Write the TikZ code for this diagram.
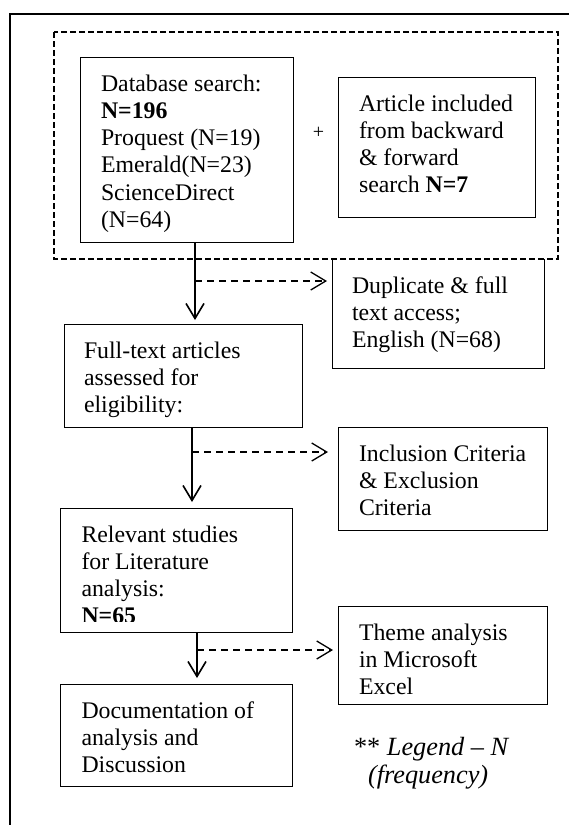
\documentclass[tikz,border=0pt]{standalone}
\usepackage{fontspec}
\setmainfont{Liberation Serif}
\usetikzlibrary{arrows.meta,calc}
\tikzset{
  boxst/.style={draw, line width=1pt, inner sep=0pt, outer sep=0pt},
  openbox/.style={draw=none, inner sep=0pt, outer sep=0pt},
  txtst/.style={anchor=base west, inner sep=0pt, outer sep=0pt},
  flowarrow/.style={line width=1.6pt, -{Straight Barb[length=15pt,width=18pt]}},
  sidearrow/.style={line width=1.3pt, dash pattern=on 7pt off 5pt, -{Straight Barb[length=15pt,width=18pt]}},
  groupframe/.style={line width=1.8pt, dash pattern=on 6pt off 3pt},
  outerframe/.style={line width=2.3pt},
}
\newcommand\boxtext[1]{\parbox[t]{240pt}{\fontsize{23.8}{27.3}\selectfont\raggedright #1}}
\begin{document}
\begin{tikzpicture}[x=1pt,y=-1pt]
\clip (0,0) rectangle (569,825);
% outer frame (only top and left edges visible)
\draw[outerframe] (10,14) rectangle (700,900);
% group frame
\draw[groupframe] (54,32) rectangle (558,259);
% boxes
\node[boxst, minimum width=213pt, minimum height=185pt] (db) at (186.5,149.5) {};
\node[boxst, minimum width=197pt, minimum height=140pt] (art) at (436.5,147) {};
\node[openbox, minimum width=212pt, minimum height=109pt] (dup) at (438,313.5) {};
\draw[line width=1pt] (dup.north west) -- (dup.south west) -- (dup.south east) -- (dup.north east);
\node[boxst, minimum width=238pt, minimum height=103pt] (ft) at (183,375.5) {};
\node[boxst, minimum width=209pt, minimum height=103pt] (inc) at (442.5,478.5) {};
\node[boxst, minimum width=232pt, minimum height=124pt] (rel) at (176,570) {};
\node[boxst, minimum width=209pt, minimum height=98pt] (theme) at (442.5,655) {};
\node[boxst, minimum width=232pt, minimum height=102pt] (doc) at (176,735) {};
% texts
\node[txtst] (dbt) at ($(db.north west)+(21,34)$) {\boxtext{Database search:\\\textbf{N=196}\\Proquest (N=19)\\Emerald(N=23)\\ScienceDirect\\(N=64)}};
\node[txtst] (artt) at ($(art.north west)+(21,34)$) {\boxtext{Article included\\from backward\\\& forward\\search \textbf{N=7}}};
\node[txtst] (dupt) at ($(dup.north west)+(20,34)$) {\boxtext{Duplicate \& full\\text access;\\English (N=68)}};
\node[txtst] (ftt) at ($(ft.north west)+(20,34)$) {\boxtext{Full-text articles\\assessed for\\eligibility:}};
\node[txtst] (inct) at ($(inc.north west)+(21,34)$) {\boxtext{Inclusion Criteria\\\& Exclusion\\Criteria}};
\begin{scope}
\clip (rel.north west) rectangle ($(rel.south east)+(0,-11)$);
\node[txtst] (relt) at ($(rel.north west)+(21.5,34)$) {\boxtext{Relevant studies\\for Literature\\analysis:\\\textbf{N=65}}};
\end{scope}
\node[txtst] (themet) at ($(theme.north west)+(21,34)$) {\boxtext{Theme analysis\\in Microsoft\\Excel}};
\node[txtst] (doct) at ($(doc.north west)+(21.5,34)$) {\boxtext{Documentation of\\analysis and\\Discussion}};
\node (plus) at (318.6,133) {\fontsize{20}{24}\selectfont +};
\node[txtst] (legend) at (354,755) {\parbox[t]{250pt}{\fontsize{26.3}{28}\selectfont ** \textit{Legend – N}\\\hspace*{14pt}\textit{(frequency)}}};
% connectors
\coordinate (c1) at (195,0);
\coordinate (c2) at (192,0);
\coordinate (c3) at (197,0);
\coordinate (d1) at (195,281);
\coordinate (d2) at (192,452);
\coordinate (d3) at (197,650);
\draw[flowarrow, shorten >=4pt] (db.south -| c1) -- (ft.north -| c1);
\draw[flowarrow, shorten >=6pt] (ft.south -| c2) -- (rel.north -| c2);
\draw[flowarrow, shorten >=6pt] (rel.south -| c3) -- (doc.north -| c3);
\draw[sidearrow, shorten >=5pt] (d1) -- (d1 -| dup.west);
\draw[sidearrow, shorten >=10pt] (d2) -- (d2 -| inc.west);
\draw[sidearrow, shorten >=5pt] (d3) -- (d3 -| theme.west);
\end{tikzpicture}
\end{document}
